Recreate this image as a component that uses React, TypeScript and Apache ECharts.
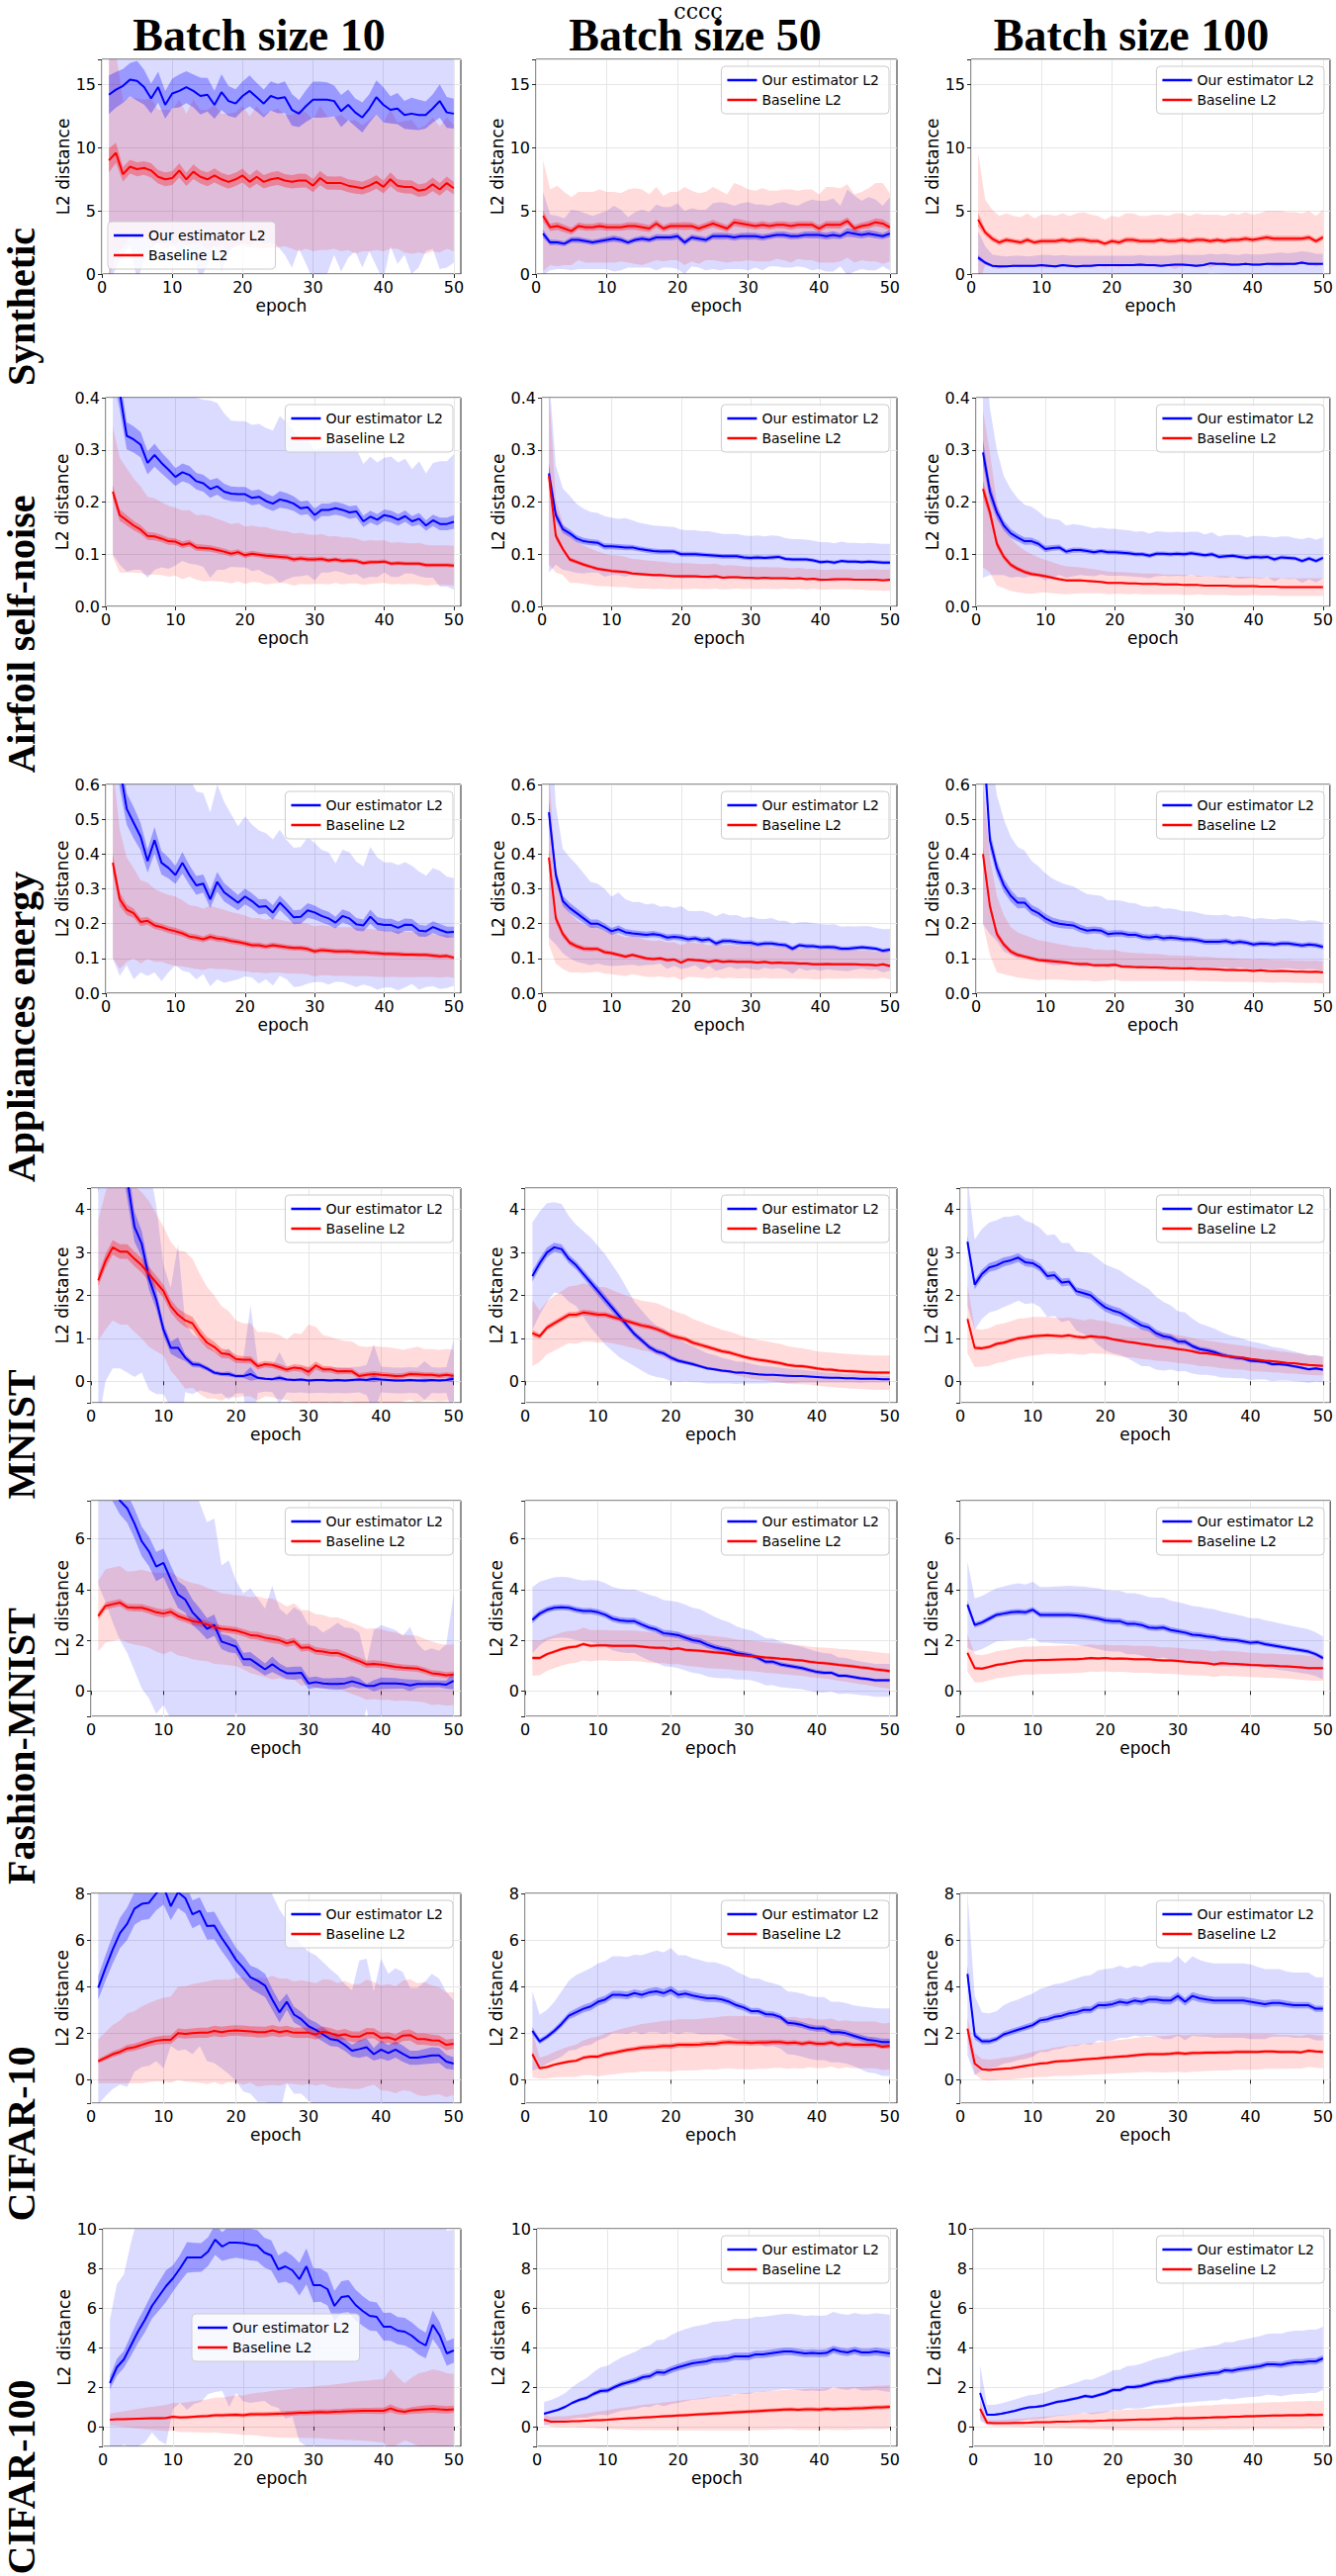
import React, { useEffect, useRef } from "react";
import * as echarts from "echarts";

const EPOCHS = [1,2,3,4,5,6,7,8,9,10,11,12,13,14,15,16,17,18,19,20,21,22,23,24,25,26,27,28,29,30,31,32,33,34,35,36,37,38,39,40,41,42,43,44,45,46,47,48,49,50];
// x-axis categories 0..51 (epoch axis runs from 0 to 51)
const X_CATEGORIES = ["0","1","2","3","4","5","6","7","8","9","10","11","12","13","14","15","16","17","18","19","20","21","22","23","24","25","26","27","28","29","30","31","32","33","34","35","36","37","38","39","40","41","42","43","44","45","46","47","48","49","50","51"];
const X_TICKS = ["0","10","20","30","40","50"];

// ---------- Synthetic ----------
const SYN10_OURS_MEAN = [14.2,14.6,14.9,15.4,15.3,14.8,13.9,14.8,13.4,14.3,14.5,14.8,14.5,14.1,14.2,13.4,14.4,13.7,13.5,14.1,14.5,14.0,13.5,14.1,13.9,14.0,13.0,12.7,13.3,13.8,13.8,13.8,13.7,12.9,13.4,12.8,12.4,13.1,14.0,13.4,13.0,13.1,12.6,12.7,12.6,12.6,13.1,13.7,12.8,12.7];
const SYN10_OURS_STD = [15.2,14.1,13.4,13.1,15.8,13.8,11.9,12.3,11.0,11.8,13.0,12.6,13.0,14.6,13.4,11.1,14.2,11.9,11.3,11.6,12.2,11.4,11.1,11.6,11.7,12.5,12.5,10.7,12.5,14.3,14.3,13.8,12.2,12.7,12.1,11.0,11.9,11.3,13.4,13.9,10.8,12.3,11.1,12.7,12.1,10.8,11.1,13.3,12.3,11.8];
const SYN10_BASE_MEAN = [9.0,9.6,7.9,8.5,8.3,8.4,8.2,7.7,7.5,7.6,8.2,7.5,8.1,7.7,7.5,7.8,7.5,7.3,7.5,7.8,7.3,7.7,7.3,7.5,7.6,7.4,7.3,7.4,7.4,7.0,7.6,7.2,7.2,7.2,7.0,6.9,6.8,7.0,7.3,6.9,7.5,7.0,6.9,6.9,6.6,6.7,7.1,6.7,7.2,6.8];
const SYN10_BASE_STD = [9.5,8.0,5.8,5.5,5.6,5.4,5.7,5.3,5.5,5.4,5.6,5.2,5.7,5.3,5.5,5.6,5.2,5.4,5.3,5.5,5.2,5.6,5.3,5.4,5.5,5.2,5.3,5.6,5.4,5.2,5.7,5.3,5.2,5.4,5.1,5.3,5.0,5.2,5.4,5.1,5.5,5.0,5.2,5.3,4.9,5.1,5.3,5.0,5.2,5.0];
const SYN50_OURS_MEAN = [3.2,2.5,2.5,2.4,2.7,2.7,2.6,2.5,2.6,2.7,2.8,2.7,2.5,2.7,2.8,2.7,2.9,2.9,2.9,3.0,2.5,2.9,2.8,2.7,3.0,3.0,3.0,2.9,3.0,3.0,3.0,2.9,3.0,3.1,3.1,3.0,3.0,3.1,3.1,3.1,3.0,3.1,3.0,3.3,3.2,3.1,3.2,3.1,3.0,3.2];
const SYN50_OURS_STD = [3.3,2.2,2.1,2.0,2.4,2.3,2.2,2.1,2.2,2.3,2.6,2.4,2.0,2.2,2.3,2.2,2.6,2.4,2.4,2.6,2.5,2.3,2.3,2.4,2.6,2.7,2.6,2.5,2.6,2.7,2.5,2.6,2.4,2.5,2.6,2.5,2.4,2.6,2.8,2.7,2.8,2.9,2.4,3.4,3.0,2.7,2.9,2.8,2.4,2.9];
const SYN50_BASE_MEAN = [4.6,3.7,3.8,3.6,3.4,3.8,3.7,3.7,3.8,3.7,3.7,3.7,3.8,3.8,3.7,3.6,4.0,3.6,3.8,3.8,3.8,3.8,3.6,3.8,4.0,3.8,3.6,4.1,4.0,3.9,3.8,3.9,3.8,3.9,3.9,3.8,3.9,3.9,3.9,3.6,3.9,3.9,3.9,4.2,3.6,3.8,3.9,4.1,4.0,3.7];
const SYN50_BASE_STD = [4.4,3.0,3.2,2.9,2.7,2.7,2.8,2.8,2.9,2.8,2.8,2.7,2.9,3.0,3.0,2.7,2.9,2.6,2.7,2.7,3.1,2.8,2.8,2.7,2.9,2.8,2.7,3.1,3.0,2.8,2.8,2.9,2.8,2.7,2.8,2.9,2.7,2.8,2.8,2.7,3.0,3.0,2.9,2.9,2.7,2.7,2.9,3.1,3.2,2.7];
const SYN100_OURS_MEAN = [1.3,0.9,0.65,0.6,0.6,0.65,0.65,0.65,0.65,0.7,0.65,0.6,0.7,0.65,0.6,0.65,0.65,0.7,0.7,0.7,0.7,0.7,0.7,0.75,0.7,0.7,0.65,0.7,0.75,0.75,0.7,0.65,0.7,0.85,0.8,0.8,0.75,0.75,0.8,0.75,0.75,0.8,0.8,0.8,0.8,0.8,0.9,0.8,0.8,0.8];
const SYN100_OURS_STD = [2.1,1.3,0.9,0.85,0.8,0.8,0.8,0.75,0.8,0.8,0.85,0.85,0.8,0.8,0.85,0.8,0.8,0.75,0.75,0.75,0.75,0.75,0.75,0.75,0.75,0.75,0.8,0.75,0.75,0.8,0.8,0.85,0.8,0.75,0.75,0.8,0.8,0.75,0.8,0.8,0.8,0.8,0.85,0.9,0.85,0.9,0.9,0.95,0.8,0.8];
const SYN100_BASE_MEAN = [4.3,3.3,2.8,2.5,2.7,2.6,2.5,2.7,2.5,2.6,2.6,2.6,2.7,2.6,2.7,2.7,2.6,2.6,2.4,2.6,2.5,2.7,2.7,2.6,2.6,2.6,2.7,2.6,2.6,2.7,2.6,2.7,2.7,2.6,2.7,2.6,2.7,2.7,2.8,2.7,2.8,2.9,2.8,2.8,2.8,2.8,2.8,2.9,2.6,2.9];
const SYN100_BASE_STD = [5.3,2.6,2.3,2.1,2.1,2.0,2.0,2.1,1.9,2.1,2.1,2.0,2.1,2.0,2.1,2.2,2.1,2.0,1.9,2.0,2.0,2.1,2.1,2.0,2.0,2.1,2.0,2.0,2.2,2.1,2.0,2.1,2.0,2.1,2.0,2.0,2.1,2.0,2.1,2.0,2.0,2.1,2.2,2.2,2.1,2.1,2.0,2.1,2.0,2.2];

// ---------- Airfoil self-noise ----------
const AIR10_OURS_MEAN = [0.48,0.41,0.327,0.32,0.31,0.275,0.29,0.275,0.262,0.248,0.257,0.252,0.24,0.236,0.225,0.23,0.22,0.216,0.215,0.215,0.208,0.21,0.202,0.197,0.205,0.202,0.197,0.188,0.19,0.175,0.185,0.185,0.188,0.185,0.18,0.182,0.163,0.172,0.166,0.175,0.172,0.166,0.173,0.163,0.168,0.155,0.165,0.158,0.158,0.162];
const AIR10_OURS_STD = [0.38,0.33,0.26,0.25,0.24,0.22,0.22,0.2,0.19,0.17,0.17,0.17,0.16,0.16,0.17,0.16,0.15,0.14,0.14,0.14,0.14,0.14,0.14,0.14,0.16,0.15,0.14,0.13,0.13,0.125,0.12,0.12,0.12,0.12,0.12,0.12,0.11,0.115,0.11,0.11,0.115,0.11,0.11,0.1,0.11,0.1,0.11,0.12,0.12,0.13];
const AIR10_BASE_MEAN = [0.22,0.175,0.165,0.155,0.147,0.135,0.134,0.13,0.125,0.124,0.118,0.121,0.113,0.112,0.111,0.108,0.105,0.101,0.104,0.098,0.101,0.099,0.097,0.096,0.095,0.094,0.09,0.092,0.09,0.09,0.091,0.088,0.09,0.087,0.088,0.087,0.083,0.085,0.085,0.086,0.082,0.083,0.082,0.082,0.082,0.079,0.079,0.079,0.079,0.078];
const AIR10_BASE_STD = [0.125,0.11,0.1,0.09,0.083,0.075,0.073,0.07,0.068,0.065,0.066,0.064,0.062,0.064,0.062,0.06,0.058,0.057,0.056,0.055,0.054,0.053,0.055,0.052,0.05,0.05,0.05,0.049,0.048,0.047,0.048,0.046,0.045,0.045,0.044,0.043,0.042,0.042,0.041,0.041,0.04,0.04,0.04,0.039,0.04,0.039,0.038,0.038,0.038,0.038];
const AIR50_OURS_MEAN = [0.255,0.175,0.148,0.14,0.13,0.125,0.123,0.122,0.115,0.115,0.114,0.113,0.113,0.11,0.108,0.106,0.105,0.105,0.105,0.1,0.1,0.1,0.099,0.098,0.097,0.096,0.096,0.096,0.094,0.093,0.094,0.093,0.094,0.095,0.091,0.09,0.09,0.09,0.088,0.085,0.086,0.084,0.087,0.086,0.086,0.085,0.086,0.085,0.084,0.084];
const AIR50_OURS_STD = [0.19,0.095,0.078,0.072,0.066,0.062,0.058,0.057,0.058,0.055,0.054,0.056,0.052,0.05,0.05,0.049,0.049,0.048,0.047,0.047,0.046,0.046,0.045,0.046,0.044,0.043,0.043,0.043,0.042,0.042,0.042,0.041,0.042,0.04,0.04,0.039,0.039,0.038,0.038,0.038,0.037,0.037,0.037,0.036,0.036,0.036,0.036,0.036,0.036,0.036];
const AIR50_BASE_MEAN = [0.25,0.135,0.11,0.09,0.085,0.08,0.076,0.072,0.07,0.068,0.067,0.066,0.063,0.062,0.061,0.06,0.06,0.059,0.058,0.058,0.058,0.058,0.057,0.057,0.058,0.055,0.056,0.056,0.055,0.055,0.054,0.055,0.054,0.054,0.054,0.053,0.054,0.052,0.053,0.051,0.051,0.052,0.052,0.052,0.051,0.051,0.051,0.051,0.05,0.051];
const AIR50_BASE_STD = [0.17,0.07,0.05,0.045,0.04,0.037,0.035,0.033,0.031,0.03,0.03,0.029,0.028,0.028,0.027,0.027,0.026,0.026,0.025,0.025,0.025,0.024,0.024,0.024,0.024,0.023,0.023,0.022,0.022,0.021,0.021,0.021,0.021,0.021,0.02,0.02,0.02,0.02,0.019,0.019,0.019,0.019,0.019,0.019,0.019,0.019,0.02,0.02,0.02,0.02];
const AIR100_OURS_MEAN = [0.295,0.22,0.18,0.155,0.14,0.132,0.125,0.125,0.12,0.11,0.112,0.113,0.105,0.108,0.108,0.106,0.104,0.106,0.104,0.104,0.103,0.102,0.1,0.1,0.097,0.101,0.101,0.1,0.101,0.1,0.102,0.1,0.098,0.1,0.095,0.096,0.097,0.095,0.093,0.095,0.094,0.095,0.09,0.094,0.093,0.092,0.087,0.092,0.087,0.093];
const AIR100_OURS_STD = [0.24,0.16,0.12,0.095,0.085,0.075,0.07,0.066,0.062,0.06,0.056,0.053,0.05,0.05,0.048,0.047,0.046,0.045,0.045,0.045,0.044,0.044,0.043,0.044,0.043,0.043,0.042,0.042,0.042,0.042,0.041,0.043,0.04,0.042,0.039,0.041,0.04,0.042,0.039,0.04,0.041,0.039,0.042,0.04,0.041,0.039,0.042,0.04,0.041,0.039];
const AIR100_BASE_MEAN = [0.225,0.18,0.12,0.095,0.08,0.072,0.066,0.062,0.06,0.058,0.055,0.052,0.05,0.05,0.05,0.049,0.048,0.047,0.045,0.045,0.045,0.044,0.044,0.043,0.043,0.043,0.042,0.042,0.042,0.041,0.041,0.041,0.04,0.04,0.04,0.04,0.039,0.039,0.039,0.039,0.038,0.038,0.038,0.037,0.037,0.037,0.037,0.037,0.037,0.037];
const AIR100_BASE_STD = [0.15,0.115,0.08,0.06,0.05,0.045,0.041,0.038,0.034,0.031,0.03,0.028,0.027,0.026,0.025,0.024,0.023,0.022,0.022,0.021,0.021,0.021,0.02,0.02,0.02,0.02,0.019,0.019,0.019,0.019,0.019,0.018,0.018,0.018,0.018,0.018,0.018,0.018,0.018,0.017,0.017,0.017,0.017,0.017,0.017,0.017,0.017,0.017,0.017,0.017];

// ---------- Appliances energy ----------
const APP10_OURS_MEAN = [0.85,0.65,0.53,0.49,0.45,0.38,0.44,0.375,0.36,0.34,0.375,0.34,0.31,0.315,0.27,0.32,0.29,0.275,0.26,0.278,0.265,0.248,0.25,0.232,0.26,0.24,0.218,0.22,0.238,0.232,0.222,0.215,0.203,0.222,0.215,0.198,0.195,0.22,0.2,0.196,0.196,0.188,0.197,0.196,0.18,0.178,0.19,0.182,0.175,0.176];
const APP10_OURS_STD = [0.75,0.6,0.45,0.45,0.39,0.33,0.38,0.34,0.3,0.26,0.31,0.28,0.27,0.26,0.25,0.28,0.26,0.24,0.22,0.23,0.22,0.22,0.21,0.21,0.21,0.2,0.2,0.2,0.21,0.2,0.19,0.19,0.17,0.19,0.19,0.18,0.17,0.2,0.19,0.18,0.18,0.18,0.18,0.17,0.17,0.16,0.17,0.17,0.16,0.155];
const APP10_BASE_MEAN = [0.375,0.27,0.24,0.23,0.205,0.208,0.195,0.19,0.183,0.178,0.172,0.163,0.16,0.155,0.162,0.157,0.155,0.15,0.147,0.143,0.138,0.138,0.134,0.138,0.135,0.132,0.13,0.13,0.127,0.12,0.124,0.122,0.12,0.12,0.12,0.118,0.118,0.116,0.115,0.113,0.113,0.112,0.111,0.111,0.11,0.11,0.108,0.106,0.107,0.102];
const APP10_BASE_STD = [0.275,0.2,0.15,0.13,0.12,0.11,0.105,0.1,0.1,0.1,0.095,0.09,0.09,0.088,0.09,0.088,0.085,0.083,0.082,0.08,0.078,0.078,0.077,0.078,0.076,0.075,0.074,0.074,0.073,0.072,0.072,0.071,0.07,0.07,0.07,0.069,0.069,0.068,0.068,0.067,0.066,0.066,0.065,0.065,0.064,0.063,0.062,0.061,0.06,0.058];
const APP50_OURS_MEAN = [0.52,0.34,0.265,0.245,0.23,0.215,0.2,0.2,0.19,0.178,0.184,0.175,0.172,0.17,0.168,0.17,0.167,0.16,0.162,0.16,0.155,0.158,0.152,0.155,0.143,0.15,0.15,0.147,0.145,0.145,0.14,0.143,0.143,0.14,0.138,0.128,0.138,0.135,0.135,0.132,0.133,0.132,0.128,0.128,0.13,0.132,0.13,0.128,0.122,0.125];
const APP50_OURS_STD = [0.36,0.2,0.15,0.145,0.14,0.13,0.12,0.115,0.11,0.1,0.105,0.095,0.09,0.092,0.087,0.088,0.082,0.09,0.083,0.09,0.082,0.078,0.085,0.076,0.078,0.08,0.074,0.078,0.072,0.075,0.074,0.07,0.073,0.068,0.07,0.072,0.066,0.07,0.066,0.067,0.064,0.066,0.063,0.065,0.062,0.061,0.063,0.06,0.062,0.06];
const APP50_BASE_MEAN = [0.39,0.215,0.17,0.145,0.135,0.128,0.127,0.127,0.118,0.115,0.11,0.105,0.11,0.105,0.1,0.098,0.1,0.095,0.097,0.088,0.097,0.095,0.094,0.09,0.094,0.09,0.092,0.09,0.09,0.09,0.088,0.09,0.087,0.088,0.087,0.087,0.085,0.085,0.083,0.083,0.084,0.083,0.083,0.083,0.083,0.082,0.082,0.08,0.083,0.078];
const APP50_BASE_STD = [0.25,0.13,0.1,0.085,0.075,0.07,0.067,0.065,0.062,0.06,0.058,0.056,0.055,0.054,0.053,0.052,0.052,0.051,0.05,0.05,0.05,0.049,0.049,0.048,0.048,0.048,0.047,0.047,0.047,0.047,0.046,0.046,0.045,0.045,0.044,0.044,0.044,0.043,0.043,0.043,0.042,0.042,0.041,0.041,0.04,0.04,0.04,0.039,0.039,0.038];
const APP100_OURS_MEAN = [0.75,0.44,0.36,0.31,0.28,0.26,0.26,0.24,0.23,0.215,0.205,0.2,0.197,0.195,0.186,0.18,0.182,0.18,0.17,0.172,0.172,0.168,0.168,0.162,0.16,0.163,0.158,0.16,0.158,0.155,0.155,0.152,0.148,0.148,0.148,0.15,0.145,0.148,0.145,0.14,0.143,0.142,0.14,0.143,0.143,0.14,0.137,0.14,0.138,0.133];
const APP100_OURS_STD = [0.55,0.27,0.21,0.19,0.17,0.16,0.15,0.14,0.135,0.13,0.125,0.12,0.115,0.112,0.11,0.105,0.1,0.1,0.097,0.095,0.094,0.092,0.09,0.088,0.088,0.087,0.085,0.084,0.082,0.08,0.08,0.079,0.078,0.077,0.076,0.076,0.075,0.074,0.074,0.073,0.073,0.072,0.072,0.072,0.071,0.071,0.07,0.07,0.07,0.07];
const APP100_BASE_MEAN = [0.4,0.25,0.17,0.14,0.12,0.11,0.105,0.1,0.095,0.094,0.092,0.09,0.088,0.085,0.084,0.084,0.08,0.08,0.08,0.082,0.077,0.076,0.075,0.075,0.074,0.074,0.073,0.072,0.072,0.071,0.072,0.07,0.07,0.069,0.068,0.067,0.067,0.066,0.066,0.064,0.066,0.064,0.063,0.064,0.063,0.062,0.062,0.061,0.062,0.06];
const APP100_BASE_STD = [0.2,0.14,0.11,0.085,0.07,0.065,0.062,0.06,0.057,0.055,0.053,0.051,0.05,0.049,0.048,0.047,0.046,0.045,0.044,0.043,0.042,0.041,0.04,0.04,0.039,0.039,0.038,0.037,0.037,0.036,0.036,0.035,0.035,0.035,0.034,0.034,0.034,0.033,0.033,0.033,0.033,0.033,0.033,0.032,0.032,0.032,0.032,0.032,0.032,0.032];

// ---------- MNIST ----------
const MNI10_OURS_MEAN = [5.0,6.0,6.3,5.8,4.7,3.6,3.2,2.4,1.9,1.2,0.78,0.78,0.55,0.4,0.38,0.3,0.2,0.17,0.17,0.12,0.12,0.17,0.08,0.06,0.05,0.08,0.04,0.03,0.04,0.02,0.03,0.03,0.02,0.03,0.02,0.03,0.04,0.03,0.06,0.04,0.03,0.02,0.02,0.03,0.02,0.02,0.03,0.02,0.03,0.06];
const MNI10_OURS_STD = [6.0,6.0,6.0,5.5,4.5,3.5,3.0,2.6,2.2,1.5,1.4,2.4,0.8,0.7,0.6,0.55,0.5,0.45,0.6,0.4,0.4,1.6,0.35,0.3,0.3,0.6,0.3,0.3,0.3,0.3,0.3,0.3,0.3,0.3,0.3,0.3,0.3,0.35,0.8,0.3,0.3,0.3,0.3,0.3,0.3,0.45,0.3,0.3,0.3,0.9];
const MNI10_BASE_MEAN = [2.35,2.8,3.12,3.02,3.02,2.85,2.7,2.5,2.3,2.1,1.75,1.55,1.42,1.35,1.1,0.9,0.8,0.65,0.63,0.52,0.5,0.5,0.35,0.4,0.38,0.33,0.27,0.32,0.3,0.22,0.37,0.28,0.28,0.23,0.24,0.23,0.12,0.15,0.17,0.15,0.14,0.12,0.13,0.17,0.16,0.15,0.15,0.13,0.15,0.13];
const MNI10_BASE_STD = [1.4,1.6,1.7,1.7,1.7,1.7,1.7,1.7,1.6,1.5,1.5,1.5,1.6,1.5,1.4,1.3,1.2,1.1,1.0,0.9,0.85,0.85,0.8,0.75,0.75,0.75,0.7,0.8,0.8,1.1,0.9,0.8,0.75,0.75,0.7,0.7,0.7,0.65,0.65,0.65,0.65,0.65,0.6,0.6,0.65,0.6,0.6,0.6,0.6,0.6];
const MNI50_OURS_MEAN = [2.45,2.75,3.0,3.12,3.08,2.85,2.7,2.5,2.3,2.1,1.9,1.7,1.5,1.3,1.1,0.95,0.8,0.7,0.65,0.55,0.48,0.44,0.4,0.35,0.3,0.28,0.25,0.23,0.2,0.2,0.18,0.16,0.15,0.15,0.14,0.13,0.12,0.12,0.11,0.1,0.09,0.08,0.08,0.07,0.07,0.06,0.06,0.06,0.05,0.05];
const MNI50_OURS_STD = [1.25,1.2,1.15,1.05,1.05,1.0,0.95,1.0,1.05,1.05,1.05,1.0,0.95,0.85,0.75,0.7,0.65,0.6,0.58,0.55,0.5,0.45,0.42,0.38,0.35,0.33,0.3,0.28,0.26,0.25,0.23,0.21,0.2,0.19,0.18,0.17,0.16,0.15,0.14,0.13,0.12,0.11,0.11,0.1,0.1,0.1,0.09,0.09,0.08,0.08];
const MNI50_BASE_MEAN = [1.12,1.05,1.25,1.35,1.45,1.55,1.55,1.6,1.58,1.55,1.55,1.5,1.45,1.4,1.35,1.3,1.27,1.22,1.15,1.07,1.02,0.98,0.9,0.85,0.8,0.75,0.7,0.67,0.62,0.57,0.53,0.5,0.48,0.45,0.42,0.38,0.36,0.35,0.33,0.3,0.28,0.27,0.25,0.24,0.23,0.22,0.21,0.2,0.2,0.2];
const MNI50_BASE_STD = [0.77,0.6,0.62,0.64,0.65,0.66,0.68,0.68,0.66,0.65,0.64,0.62,0.6,0.59,0.58,0.58,0.58,0.6,0.6,0.6,0.58,0.57,0.55,0.54,0.52,0.51,0.5,0.49,0.48,0.47,0.47,0.46,0.46,0.45,0.45,0.44,0.43,0.42,0.41,0.4,0.4,0.4,0.4,0.4,0.4,0.4,0.4,0.4,0.4,0.4];
const MNI100_OURS_MEAN = [3.25,2.25,2.5,2.65,2.7,2.78,2.82,2.88,2.77,2.75,2.65,2.45,2.47,2.3,2.32,2.1,2.05,2.0,1.85,1.72,1.65,1.6,1.5,1.4,1.3,1.25,1.12,1.05,1.02,0.93,0.92,0.82,0.75,0.72,0.68,0.62,0.58,0.55,0.53,0.48,0.47,0.45,0.4,0.4,0.38,0.35,0.32,0.28,0.3,0.27];
const MNI100_OURS_STD = [1.5,1.05,1.05,1.05,1.05,1.05,1.02,1.0,0.97,0.93,0.92,0.95,0.95,0.92,0.9,0.92,0.95,0.98,1.0,1.0,1.0,0.98,0.96,0.95,0.95,0.9,0.85,0.8,0.75,0.7,0.68,0.64,0.6,0.57,0.55,0.53,0.5,0.48,0.46,0.45,0.43,0.41,0.4,0.38,0.36,0.35,0.33,0.32,0.31,0.3];
const MNI100_BASE_MEAN = [1.45,0.78,0.77,0.8,0.87,0.9,0.95,1.0,1.02,1.05,1.06,1.07,1.06,1.05,1.07,1.04,1.02,1.05,1.03,1.02,0.98,0.95,0.92,0.9,0.87,0.85,0.82,0.8,0.78,0.75,0.73,0.7,0.66,0.65,0.63,0.6,0.58,0.56,0.55,0.52,0.5,0.48,0.47,0.45,0.43,0.42,0.4,0.38,0.37,0.36];
const MNI100_BASE_STD = [0.8,0.45,0.43,0.44,0.45,0.45,0.45,0.46,0.45,0.45,0.44,0.43,0.42,0.42,0.42,0.41,0.4,0.4,0.39,0.38,0.37,0.37,0.36,0.35,0.35,0.34,0.34,0.33,0.33,0.32,0.32,0.31,0.31,0.3,0.3,0.3,0.29,0.29,0.28,0.28,0.27,0.26,0.26,0.25,0.25,0.24,0.24,0.23,0.23,0.22];

// ---------- Fashion-MNIST ----------
const FMN10_OURS_MEAN = [9.0,8.5,8.0,7.5,7.2,6.6,5.9,5.5,4.9,5.05,4.4,3.8,3.6,3.1,2.8,2.45,2.6,1.95,1.85,1.75,1.25,1.25,1.05,0.85,1.05,0.85,0.7,0.7,0.72,0.3,0.35,0.3,0.28,0.28,0.3,0.38,0.3,0.2,0.2,0.3,0.3,0.3,0.28,0.22,0.28,0.28,0.28,0.28,0.25,0.4];
const FMN10_OURS_STD = [4.8,5.0,5.3,5.5,5.7,5.8,5.8,5.8,5.8,5.6,5.5,5.3,5.2,5.0,4.6,4.2,4.2,3.0,3.3,2.6,2.6,2.8,2.6,2.4,3.1,2.4,2.3,2.6,2.4,2.3,2.2,2.0,2.2,2.4,2.2,2.1,2.0,0.9,2.2,2.3,2.2,2.1,1.9,2.3,1.6,1.3,1.4,1.3,1.6,3.4];
const FMN10_BASE_MEAN = [2.95,3.35,3.42,3.48,3.3,3.28,3.28,3.2,3.1,3.05,3.12,2.95,2.85,2.75,2.7,2.62,2.52,2.45,2.42,2.38,2.3,2.2,2.18,2.1,2.05,2.0,1.88,1.95,1.7,1.72,1.58,1.55,1.5,1.5,1.4,1.28,1.18,1.05,1.07,1.04,1.0,0.95,0.92,0.9,0.88,0.8,0.7,0.67,0.62,0.65];
const FMN10_BASE_STD = [1.4,1.45,1.45,1.45,1.4,1.45,1.5,1.5,1.55,1.6,1.55,1.55,1.5,1.5,1.5,1.45,1.45,1.4,1.4,1.4,1.45,1.5,1.55,1.55,1.6,1.5,1.45,1.5,1.5,1.45,1.45,1.45,1.4,1.4,1.4,1.4,1.4,1.4,1.4,1.4,1.35,1.35,1.3,1.3,1.3,1.25,1.25,1.2,1.2,1.2];
const FMN50_OURS_MEAN = [2.8,3.05,3.2,3.28,3.3,3.28,3.2,3.15,3.15,3.1,3.0,2.85,2.78,2.75,2.75,2.62,2.5,2.42,2.28,2.25,2.2,2.1,2.0,1.95,1.82,1.72,1.65,1.6,1.5,1.45,1.4,1.3,1.15,1.15,1.05,1.0,0.95,0.9,0.82,0.75,0.72,0.72,0.6,0.6,0.55,0.5,0.47,0.42,0.42,0.42];
const FMN50_OURS_STD = [1.3,1.25,1.2,1.2,1.2,1.2,1.2,1.2,1.22,1.25,1.25,1.25,1.25,1.25,1.25,1.28,1.3,1.3,1.3,1.3,1.3,1.3,1.28,1.27,1.25,1.2,1.15,1.1,1.05,1.0,0.98,0.95,0.93,0.92,0.9,0.88,0.86,0.84,0.82,0.8,0.78,0.75,0.72,0.7,0.67,0.66,0.65,0.65,0.65,0.65];
const FMN50_BASE_MEAN = [1.3,1.3,1.45,1.55,1.65,1.72,1.75,1.85,1.78,1.8,1.8,1.78,1.78,1.78,1.78,1.75,1.72,1.7,1.7,1.65,1.68,1.62,1.6,1.58,1.55,1.52,1.5,1.47,1.42,1.4,1.38,1.35,1.32,1.3,1.27,1.25,1.22,1.2,1.15,1.12,1.1,1.07,1.03,1.0,0.97,0.93,0.9,0.85,0.82,0.78];
const FMN50_BASE_STD = [0.7,0.68,0.66,0.65,0.65,0.64,0.63,0.65,0.62,0.6,0.6,0.6,0.6,0.6,0.6,0.6,0.6,0.6,0.6,0.6,0.62,0.62,0.63,0.64,0.65,0.64,0.63,0.62,0.61,0.6,0.6,0.6,0.6,0.6,0.6,0.6,0.6,0.6,0.6,0.6,0.61,0.62,0.63,0.64,0.65,0.66,0.67,0.68,0.69,0.7];
const FMN100_OURS_MEAN = [3.4,2.6,2.7,2.85,3.0,3.05,3.1,3.12,3.1,3.2,3.0,3.0,3.0,3.0,3.0,2.98,2.95,2.9,2.85,2.78,2.75,2.75,2.65,2.65,2.6,2.5,2.48,2.5,2.4,2.35,2.3,2.22,2.2,2.15,2.12,2.05,2.02,2.0,1.95,1.9,1.92,1.85,1.8,1.75,1.7,1.65,1.6,1.55,1.45,1.3];
const FMN100_OURS_STD = [1.7,1.05,1.05,1.05,1.05,1.07,1.1,1.12,1.1,1.1,1.1,1.1,1.12,1.13,1.15,1.15,1.17,1.18,1.2,1.2,1.2,1.2,1.2,1.2,1.2,1.2,1.2,1.18,1.16,1.15,1.14,1.13,1.12,1.11,1.1,1.08,1.05,1.02,1.0,0.97,0.95,0.94,0.93,0.92,0.91,0.9,0.89,0.88,0.86,0.85];
const FMN100_BASE_MEAN = [1.5,0.9,0.88,0.95,1.03,1.07,1.12,1.17,1.2,1.2,1.22,1.22,1.23,1.24,1.25,1.25,1.27,1.3,1.28,1.3,1.27,1.28,1.27,1.25,1.25,1.25,1.22,1.2,1.2,1.18,1.15,1.13,1.12,1.1,1.05,1.1,1.08,1.07,1.05,1.03,1.02,1.0,1.0,0.98,0.97,0.95,0.93,0.9,0.9,0.9];
const FMN100_BASE_STD = [0.75,0.55,0.53,0.53,0.53,0.54,0.54,0.55,0.55,0.55,0.55,0.55,0.55,0.55,0.55,0.54,0.54,0.54,0.53,0.53,0.53,0.53,0.53,0.53,0.53,0.53,0.53,0.52,0.52,0.52,0.52,0.51,0.51,0.5,0.5,0.5,0.49,0.49,0.48,0.48,0.48,0.48,0.48,0.48,0.48,0.48,0.49,0.49,0.5,0.5];

// ---------- CIFAR-10 ----------
const C10_10_OURS_MEAN = [3.95,4.8,5.6,6.3,6.7,7.35,7.55,7.6,8.0,8.3,7.45,8.05,7.8,7.1,7.25,6.6,6.62,6.1,5.65,5.15,4.8,4.4,4.25,4.05,3.45,2.9,3.35,2.8,2.6,2.3,2.15,1.95,1.75,1.7,1.5,1.25,1.32,1.4,1.1,1.3,1.15,1.3,1.12,0.95,0.95,1.0,1.05,1.05,0.78,0.7];
const C10_10_OURS_STD = [5.0,5.5,6.0,6.5,7.0,7.0,7.0,7.0,7.2,7.8,6.0,6.8,6.5,6.0,5.8,5.8,5.9,5.6,5.4,5.2,5.3,5.0,5.2,5.0,4.5,4.4,3.5,3.4,3.2,3.2,3.2,3.1,3.0,2.8,2.6,2.6,3.8,3.8,2.7,3.9,3.4,3.5,3.5,3.0,3.0,3.2,3.5,3.3,3.0,2.7];
const C10_10_BASE_MEAN = [0.8,0.95,1.1,1.2,1.35,1.4,1.5,1.6,1.68,1.72,1.72,2.0,1.97,2.0,2.02,2.02,2.1,2.05,2.1,2.12,2.1,2.08,2.05,2.05,2.12,2.05,2.1,2.02,2.02,2.02,1.95,2.07,2.0,1.9,1.95,1.85,1.85,2.0,2.0,1.8,1.82,1.72,1.9,1.92,1.75,1.75,1.7,1.68,1.5,1.55];
const C10_10_BASE_STD = [0.95,1.1,1.25,1.35,1.5,1.55,1.65,1.7,1.75,1.8,1.85,2.0,2.05,2.1,2.15,2.2,2.2,2.25,2.2,2.25,2.3,2.2,2.35,2.3,2.35,2.3,2.25,2.2,2.25,2.2,2.2,2.25,2.3,2.25,2.3,2.25,2.25,2.3,2.2,2.25,2.3,2.3,2.35,2.4,2.4,2.45,2.35,2.3,2.25,2.2];
const C10_50_OURS_MEAN = [2.1,1.65,1.85,2.1,2.4,2.75,2.9,3.05,3.15,3.35,3.45,3.65,3.65,3.62,3.72,3.65,3.75,3.8,3.72,3.85,3.65,3.7,3.62,3.55,3.5,3.5,3.45,3.35,3.2,3.1,2.95,2.95,2.82,2.8,2.7,2.45,2.42,2.35,2.25,2.2,2.2,2.05,2.05,2.0,1.9,1.8,1.72,1.68,1.62,1.62];
const C10_50_OURS_STD = [1.7,1.15,1.15,1.25,1.4,1.5,1.6,1.6,1.65,1.65,1.65,1.65,1.65,1.65,1.65,1.7,1.7,1.75,1.75,1.8,1.7,1.65,1.6,1.6,1.55,1.55,1.5,1.5,1.45,1.4,1.4,1.4,1.4,1.35,1.35,1.35,1.35,1.35,1.35,1.35,1.35,1.3,1.3,1.3,1.3,1.35,1.4,1.4,1.45,1.45];
const C10_50_BASE_MEAN = [1.1,0.5,0.55,0.65,0.72,0.78,0.82,0.95,1.0,1.0,1.1,1.15,1.22,1.28,1.32,1.38,1.4,1.42,1.45,1.45,1.5,1.5,1.5,1.52,1.55,1.55,1.6,1.62,1.6,1.6,1.58,1.6,1.6,1.62,1.62,1.58,1.6,1.55,1.6,1.55,1.55,1.6,1.5,1.55,1.5,1.5,1.5,1.5,1.42,1.45];
const C10_50_BASE_STD = [1.0,0.45,0.5,0.55,0.6,0.65,0.7,0.75,0.8,0.85,0.9,0.92,0.95,0.97,1.0,1.02,1.04,1.06,1.08,1.1,1.1,1.1,1.1,1.1,1.1,1.12,1.12,1.13,1.14,1.15,1.14,1.13,1.12,1.11,1.1,1.1,1.1,1.08,1.06,1.05,1.04,1.03,1.02,1.01,1.0,1.0,1.0,1.0,1.0,1.0];
const C10_100_OURS_MEAN = [4.55,1.9,1.65,1.65,1.75,1.95,2.05,2.15,2.25,2.35,2.55,2.6,2.7,2.75,2.85,2.9,3.0,3.0,3.2,3.2,3.25,3.35,3.3,3.4,3.35,3.45,3.45,3.4,3.4,3.6,3.35,3.6,3.5,3.45,3.4,3.4,3.4,3.4,3.4,3.35,3.3,3.25,3.3,3.3,3.25,3.2,3.2,3.2,3.05,3.05];
const C10_100_OURS_STD = [3.5,1.7,1.25,1.2,1.2,1.25,1.3,1.3,1.35,1.35,1.35,1.4,1.4,1.4,1.4,1.45,1.45,1.5,1.5,1.55,1.55,1.55,1.5,1.5,1.5,1.55,1.6,1.65,1.65,1.7,1.65,1.7,1.65,1.6,1.6,1.6,1.6,1.6,1.6,1.6,1.55,1.5,1.45,1.45,1.4,1.4,1.4,1.4,1.35,1.35];
const C10_100_BASE_MEAN = [2.2,0.7,0.45,0.42,0.45,0.48,0.5,0.55,0.6,0.65,0.7,0.72,0.78,0.8,0.82,0.85,0.88,0.9,0.92,0.95,0.97,1.0,1.02,1.05,1.08,1.1,1.1,1.1,1.12,1.15,1.12,1.15,1.15,1.17,1.17,1.18,1.18,1.2,1.2,1.2,1.2,1.22,1.22,1.2,1.2,1.2,1.18,1.25,1.22,1.2];
const C10_100_BASE_STD = [0.5,0.45,0.45,0.45,0.45,0.47,0.48,0.5,0.52,0.55,0.57,0.59,0.61,0.63,0.65,0.66,0.67,0.68,0.69,0.7,0.71,0.72,0.73,0.74,0.75,0.76,0.77,0.78,0.79,0.8,0.8,0.8,0.79,0.79,0.78,0.78,0.78,0.77,0.77,0.77,0.76,0.75,0.74,0.73,0.72,0.71,0.71,0.7,0.7,0.7];

// ---------- CIFAR-100 ----------
const C100_10_OURS_MEAN = [2.2,3.0,3.4,4.1,4.8,5.4,6.1,6.6,7.1,7.5,8.0,8.55,8.55,8.55,8.85,9.45,9.1,9.3,9.3,9.28,9.2,9.15,8.8,8.65,7.95,8.1,7.9,7.45,8.1,7.15,7.15,6.95,6.1,6.55,6.6,6.15,5.85,5.6,5.55,5.05,5.05,4.85,4.8,4.6,4.3,4.1,5.15,4.6,3.7,3.85];
const C100_10_OURS_STD = [3.2,4.2,4.3,5.2,5.8,6.2,6.4,7.3,8.0,6.6,6.8,7.7,7.4,7.3,7.2,7.7,7.3,8.3,7.6,8.0,8.0,7.9,7.5,7.6,7.0,7.7,7.4,8.2,9.1,8.6,8.4,8.2,7.6,8.0,8.1,7.8,7.5,7.4,7.3,7.0,7.1,6.9,7.0,6.8,6.6,6.5,7.2,6.8,6.2,6.1];
const C100_10_BASE_MEAN = [0.35,0.37,0.38,0.39,0.4,0.41,0.42,0.43,0.44,0.5,0.46,0.48,0.5,0.52,0.54,0.58,0.57,0.59,0.6,0.58,0.62,0.63,0.62,0.64,0.65,0.66,0.68,0.7,0.7,0.72,0.74,0.73,0.75,0.76,0.78,0.79,0.8,0.8,0.8,0.8,0.92,0.8,0.75,0.82,0.85,0.88,0.9,0.87,0.85,0.88];
const C100_10_BASE_STD = [0.3,0.35,0.4,0.45,0.5,0.55,0.58,0.62,0.66,0.7,0.73,0.76,0.79,0.82,0.85,0.88,0.91,0.94,0.97,1.0,1.04,1.08,1.12,1.16,1.2,1.22,1.24,1.26,1.28,1.3,1.33,1.36,1.39,1.42,1.45,1.48,1.51,1.54,1.57,1.6,2.0,1.7,1.45,1.65,1.85,1.9,2.0,1.95,1.85,1.8];
const C100_50_OURS_MEAN = [0.65,0.75,0.85,1.0,1.2,1.35,1.45,1.65,1.8,1.82,2.0,2.15,2.25,2.35,2.5,2.55,2.75,2.72,2.88,3.0,3.1,3.2,3.25,3.3,3.4,3.42,3.45,3.55,3.55,3.55,3.65,3.65,3.7,3.75,3.8,3.8,3.75,3.7,3.72,3.7,3.72,3.9,3.8,3.75,3.85,3.75,3.75,3.8,3.75,3.7];
const C100_50_OURS_STD = [0.6,0.6,0.65,0.7,0.8,0.9,1.0,1.1,1.2,1.25,1.3,1.35,1.4,1.45,1.5,1.56,1.62,1.68,1.74,1.8,1.82,1.84,1.86,1.88,1.9,1.9,1.9,1.9,1.9,1.9,1.9,1.9,1.9,1.9,1.9,1.9,1.9,1.9,1.9,1.9,1.9,1.9,1.9,1.9,1.9,1.92,1.93,1.94,1.95,1.95];
const C100_50_BASE_MEAN = [0.35,0.25,0.25,0.25,0.27,0.28,0.3,0.32,0.33,0.35,0.38,0.4,0.42,0.44,0.46,0.48,0.5,0.52,0.54,0.56,0.58,0.6,0.62,0.64,0.66,0.68,0.7,0.72,0.74,0.76,0.78,0.8,0.82,0.84,0.86,0.88,0.85,0.87,0.88,0.86,0.9,0.88,0.9,0.9,0.92,0.93,0.95,0.97,0.98,1.0];
const C100_50_BASE_STD = [0.25,0.25,0.27,0.28,0.3,0.33,0.36,0.4,0.44,0.48,0.52,0.55,0.58,0.61,0.64,0.66,0.68,0.7,0.72,0.75,0.77,0.79,0.81,0.83,0.85,0.87,0.89,0.91,0.93,0.95,0.96,0.97,0.98,0.99,1.0,1.01,1.02,1.03,1.04,1.05,1.05,1.06,1.06,1.07,1.07,1.08,1.08,1.09,1.1,1.1];
const C100_100_OURS_MEAN = [1.7,0.6,0.6,0.65,0.72,0.8,0.9,0.98,1.0,1.05,1.15,1.25,1.3,1.38,1.45,1.55,1.5,1.6,1.7,1.85,1.85,2.0,2.0,2.05,2.15,2.25,2.3,2.35,2.45,2.5,2.55,2.6,2.65,2.7,2.72,2.85,2.82,2.9,2.95,3.0,3.05,3.15,3.15,3.12,3.2,3.25,3.25,3.3,3.3,3.45];
const C100_100_OURS_STD = [1.4,0.5,0.5,0.52,0.55,0.57,0.59,0.61,0.63,0.65,0.68,0.71,0.74,0.77,0.8,0.84,0.88,0.92,0.96,1.0,1.03,1.06,1.09,1.12,1.15,1.18,1.21,1.24,1.27,1.3,1.32,1.34,1.36,1.38,1.4,1.42,1.44,1.46,1.48,1.5,1.52,1.54,1.56,1.58,1.6,1.6,1.6,1.6,1.6,1.6];
const C100_100_BASE_MEAN = [0.9,0.2,0.17,0.17,0.18,0.19,0.19,0.2,0.22,0.22,0.23,0.25,0.25,0.26,0.28,0.29,0.28,0.3,0.31,0.33,0.33,0.34,0.35,0.36,0.36,0.38,0.39,0.4,0.42,0.42,0.43,0.44,0.45,0.46,0.48,0.48,0.5,0.5,0.52,0.53,0.54,0.55,0.56,0.56,0.57,0.58,0.58,0.6,0.59,0.6];
const C100_100_BASE_STD = [0.4,0.15,0.16,0.17,0.18,0.2,0.22,0.24,0.26,0.28,0.3,0.32,0.34,0.36,0.38,0.4,0.42,0.44,0.46,0.48,0.5,0.51,0.52,0.53,0.54,0.55,0.56,0.57,0.58,0.6,0.6,0.61,0.62,0.62,0.63,0.64,0.64,0.65,0.66,0.66,0.67,0.67,0.68,0.68,0.69,0.69,0.7,0.7,0.7,0.7];

// ---------- labels ----------
const COL_TITLES = ["Batch size 10", "Batch size 50", "Batch size 100"];
const ROW_LABELS = ["Synthetic", "Airfoil self-noise", "Appliances energy", "MNIST", "Fashion-MNIST", "CIFAR-10", "CIFAR-100"];
const SUPERSCRIPT = "cccç";
const LEGEND_NAMES = ["Our estimator L2", "Baseline L2"];
const X_NAME = "epoch";
const Y_NAME = "L2 distance";

// y-axis ranges per row
const Y_MIN = [0, 0, 0, -0.5, -1, -1, -1];
const Y_MAX = [17, 0.4, 0.6, 4.5, 7.5, 8, 10];
const Y_STEP = [5, 0.1, 0.1, 1, 2, 2, 2];
const Y_DEC = [0, 1, 1, 0, 0, 0, 0];

const PANELS = [
  [[SYN10_OURS_MEAN, SYN10_OURS_STD, SYN10_BASE_MEAN, SYN10_BASE_STD], [SYN50_OURS_MEAN, SYN50_OURS_STD, SYN50_BASE_MEAN, SYN50_BASE_STD], [SYN100_OURS_MEAN, SYN100_OURS_STD, SYN100_BASE_MEAN, SYN100_BASE_STD]],
  [[AIR10_OURS_MEAN, AIR10_OURS_STD, AIR10_BASE_MEAN, AIR10_BASE_STD], [AIR50_OURS_MEAN, AIR50_OURS_STD, AIR50_BASE_MEAN, AIR50_BASE_STD], [AIR100_OURS_MEAN, AIR100_OURS_STD, AIR100_BASE_MEAN, AIR100_BASE_STD]],
  [[APP10_OURS_MEAN, APP10_OURS_STD, APP10_BASE_MEAN, APP10_BASE_STD], [APP50_OURS_MEAN, APP50_OURS_STD, APP50_BASE_MEAN, APP50_BASE_STD], [APP100_OURS_MEAN, APP100_OURS_STD, APP100_BASE_MEAN, APP100_BASE_STD]],
  [[MNI10_OURS_MEAN, MNI10_OURS_STD, MNI10_BASE_MEAN, MNI10_BASE_STD], [MNI50_OURS_MEAN, MNI50_OURS_STD, MNI50_BASE_MEAN, MNI50_BASE_STD], [MNI100_OURS_MEAN, MNI100_OURS_STD, MNI100_BASE_MEAN, MNI100_BASE_STD]],
  [[FMN10_OURS_MEAN, FMN10_OURS_STD, FMN10_BASE_MEAN, FMN10_BASE_STD], [FMN50_OURS_MEAN, FMN50_OURS_STD, FMN50_BASE_MEAN, FMN50_BASE_STD], [FMN100_OURS_MEAN, FMN100_OURS_STD, FMN100_BASE_MEAN, FMN100_BASE_STD]],
  [[C10_10_OURS_MEAN, C10_10_OURS_STD, C10_10_BASE_MEAN, C10_10_BASE_STD], [C10_50_OURS_MEAN, C10_50_OURS_STD, C10_50_BASE_MEAN, C10_50_BASE_STD], [C10_100_OURS_MEAN, C10_100_OURS_STD, C10_100_BASE_MEAN, C10_100_BASE_STD]],
  [[C100_10_OURS_MEAN, C100_10_OURS_STD, C100_10_BASE_MEAN, C100_10_BASE_STD], [C100_50_OURS_MEAN, C100_50_OURS_STD, C100_50_BASE_MEAN, C100_50_BASE_STD], [C100_100_OURS_MEAN, C100_100_OURS_STD, C100_100_BASE_MEAN, C100_100_BASE_STD]],
];

// ---------- layout (pixels) ----------
const W = 1351;
const H = 2604;
const ROW_TOP = [60, 402, 793, 1201, 1517, 1914, 2253];
const ROW_BOTTOM = [277, 613, 1004, 1418, 1735, 2126, 2473];
const ROW_LEFT = [[103, 542, 982], [107, 548, 987], [107, 548, 987], [92, 531, 971], [92, 531, 971], [92, 531, 971], [104, 543, 984]];
const COL_RIGHT = [466, 907, 1347];
const Y_NAME_GAP = [31, 35, 35, 21, 21, 21, 31];
const TITLE_X = [262, 703, 1144];
const ROW_LABEL_Y = [310, 641, 1038, 1450, 1765, 2157, 2504];
const INNER_K = 0.1;

const BLUE = "#0000ff";
const RED = "#ff0000";
const FILL_OUTER = ["rgba(0,0,255,0.14)", "rgba(255,0,0,0.14)"];
const FILL_INNER = ["rgba(0,0,255,0.3)", "rgba(255,0,0,0.3)"];
const SANS = "DejaVu Sans";

function tickFmt(step: number, dec: number) {
  return (v: number) => {
    const k = v / step;
    return Math.abs(k - Math.round(k)) < 1e-6 ? (Math.abs(v) < 1e-9 ? 0 : v).toFixed(dec) : "";
  };
}
const isXTick = (_i: number, v: string) => X_TICKS.indexOf(String(v)) >= 0;

function buildOption() {
  const grid: any[] = [];
  const xAxis: any[] = [];
  const yAxis: any[] = [];
  const legend: any[] = [];
  const outer: any[] = [];
  const inner: any[] = [];
  const lines: any[] = [];
  let g = 0;
  for (let r = 0; r < 7; r++) {
    for (let c = 0; c < 3; c++) {
      const left = ROW_LEFT[r][c];
      const top = ROW_TOP[r];
      const right = COL_RIGHT[c];
      const bottom = ROW_BOTTOM[r];
      grid.push({ left, top, width: right - left, height: bottom - top, show: true, borderColor: "#262626", borderWidth: 1, backgroundColor: "transparent", containLabel: false });
      xAxis.push({
        gridIndex: g, type: "category", data: X_CATEGORIES, boundaryGap: false,
        name: X_NAME, nameLocation: "middle", nameGap: 23,
        nameTextStyle: { fontSize: 17, fontFamily: SANS, color: "#000" },
        axisLine: { show: false },
        axisTick: { show: true, length: 4, interval: isXTick, lineStyle: { color: "#262626", width: 1 } },
        axisLabel: { margin: 5, fontSize: 16, fontFamily: SANS, color: "#000", interval: isXTick },
        splitLine: { show: true, interval: isXTick, lineStyle: { color: "#e6e6e6", width: 1 } },
      });
      const yMin = Y_MIN[r];
      const step = Y_STEP[r];
      const isMultiple = Math.abs(yMin / step - Math.round(yMin / step)) < 1e-9;
      const yCfg: any = {
        gridIndex: g, type: "value", min: yMin, max: Y_MAX[r],
        name: Y_NAME, nameLocation: "middle", nameGap: Y_NAME_GAP[r],
        nameTextStyle: { fontSize: 17, fontFamily: SANS, color: "#000" },
        axisLine: { show: false },
        axisTick: { show: true, length: 4, lineStyle: { color: "#262626", width: 1 } },
        axisLabel: { margin: 6, fontSize: 16, fontFamily: SANS, color: "#000", formatter: tickFmt(step, Y_DEC[r]) },
        splitLine: { show: true, lineStyle: { color: "#e6e6e6", width: 1 } },
      };
      if (isMultiple) yCfg.interval = step;
      else yCfg.splitNumber = Math.round((Y_MAX[r] - yMin) / step);
      yAxis.push(yCfg);

      const pos: any = {};
      if (r === 0 && c === 0) { pos.left = 109; pos.top = 224; }
      else if (r === 6 && c === 0) { pos.left = 194; pos.top = 2339; }
      else { pos.right = W - (right - 8); pos.top = top + 7; }
      legend.push({
        ...pos,
        data: LEGEND_NAMES.map((n) => ({ name: n, icon: "rect" })),
        orient: "vertical", selectedMode: false,
        itemWidth: 30, itemHeight: 2.5, itemGap: 6,
        padding: [7, 10, 7, 6],
        backgroundColor: "rgba(255,255,255,0.8)", borderColor: "#cccccc", borderWidth: 1, borderRadius: 4,
        textStyle: { fontSize: 14, fontFamily: SANS, color: "#000" },
        z: 20,
      });

      const p = PANELS[r][c];
      const sets = [[p[0], p[1]], [p[2], p[3]]];
      sets.forEach(([m, s], k) => {
        const col = k === 0 ? BLUE : RED;
        const base = { type: "line", xAxisIndex: g, yAxisIndex: g, symbol: "none", showSymbol: false, silent: true, clip: true, stackStrategy: "all" };
        outer.push({ ...base, name: `ob${g}_${k}`, stack: `o${g}_${k}`, data: EPOCHS.map((e, i) => [e, m[i] - s[i]]), lineStyle: { width: 0, opacity: 0 } });
        outer.push({ ...base, name: `ow${g}_${k}`, stack: `o${g}_${k}`, data: EPOCHS.map((e, i) => [e, 2 * s[i]]), lineStyle: { width: 0, opacity: 0 }, areaStyle: { color: FILL_OUTER[k], opacity: 1 } });
        inner.push({ ...base, name: `ib${g}_${k}`, stack: `i${g}_${k}`, data: EPOCHS.map((e, i) => [e, m[i] - INNER_K * s[i]]), lineStyle: { width: 0, opacity: 0 } });
        inner.push({ ...base, name: `iw${g}_${k}`, stack: `i${g}_${k}`, data: EPOCHS.map((e, i) => [e, 2 * INNER_K * s[i]]), lineStyle: { width: 0, opacity: 0 }, areaStyle: { color: FILL_INNER[k], opacity: 1 } });
        lines.push({ type: "line", xAxisIndex: g, yAxisIndex: g, symbol: "none", showSymbol: false, silent: true, clip: true, name: LEGEND_NAMES[k], data: EPOCHS.map((e, i) => [e, m[i]]), lineStyle: { color: col, width: 2 }, itemStyle: { color: col }, z: 3 });
      });
      g++;
    }
  }

  const graphic: any[] = [];
  COL_TITLES.forEach((t, i) => {
    graphic.push({ type: "text", x: TITLE_X[i], y: 35, silent: true, style: { text: t, fontSize: 46, fontWeight: "bold", fontFamily: "Liberation Serif", fill: "#000", align: "center", verticalAlign: "middle", textAlign: "center", textVerticalAlign: "middle" } });
  });
  graphic.push({ type: "text", x: 706, y: 11, silent: true, style: { text: SUPERSCRIPT, fontSize: 22, fontFamily: "DejaVu Serif", fill: "#000", align: "center", verticalAlign: "middle", textAlign: "center", textVerticalAlign: "middle" } });
  ROW_LABELS.forEach((t, i) => {
    graphic.push({ type: "text", x: 21, y: ROW_LABEL_Y[i], rotation: Math.PI / 2, silent: true, style: { text: t, fontSize: 40, fontWeight: "bold", fontFamily: "Liberation Serif", fill: "#000", align: "center", verticalAlign: "middle", textAlign: "center", textVerticalAlign: "middle" } });
  });

  return {
    animation: false,
    backgroundColor: "#ffffff",
    textStyle: { fontFamily: SANS },
    grid, xAxis, yAxis, legend,
    series: [...outer, ...inner, ...lines],
    graphic,
  };
}

export default function App() {
  const ref = useRef<HTMLDivElement>(null);
  useEffect(() => {
    document.body.style.margin = "0";
    if (!ref.current) return;
    const chart = echarts.init(ref.current, undefined, { renderer: "svg", width: W, height: H });
    chart.setOption(buildOption() as any);
    return () => chart.dispose();
  }, []);
  return <div ref={ref} style={{ width: W, height: H, background: "#fff" }} />;
}
